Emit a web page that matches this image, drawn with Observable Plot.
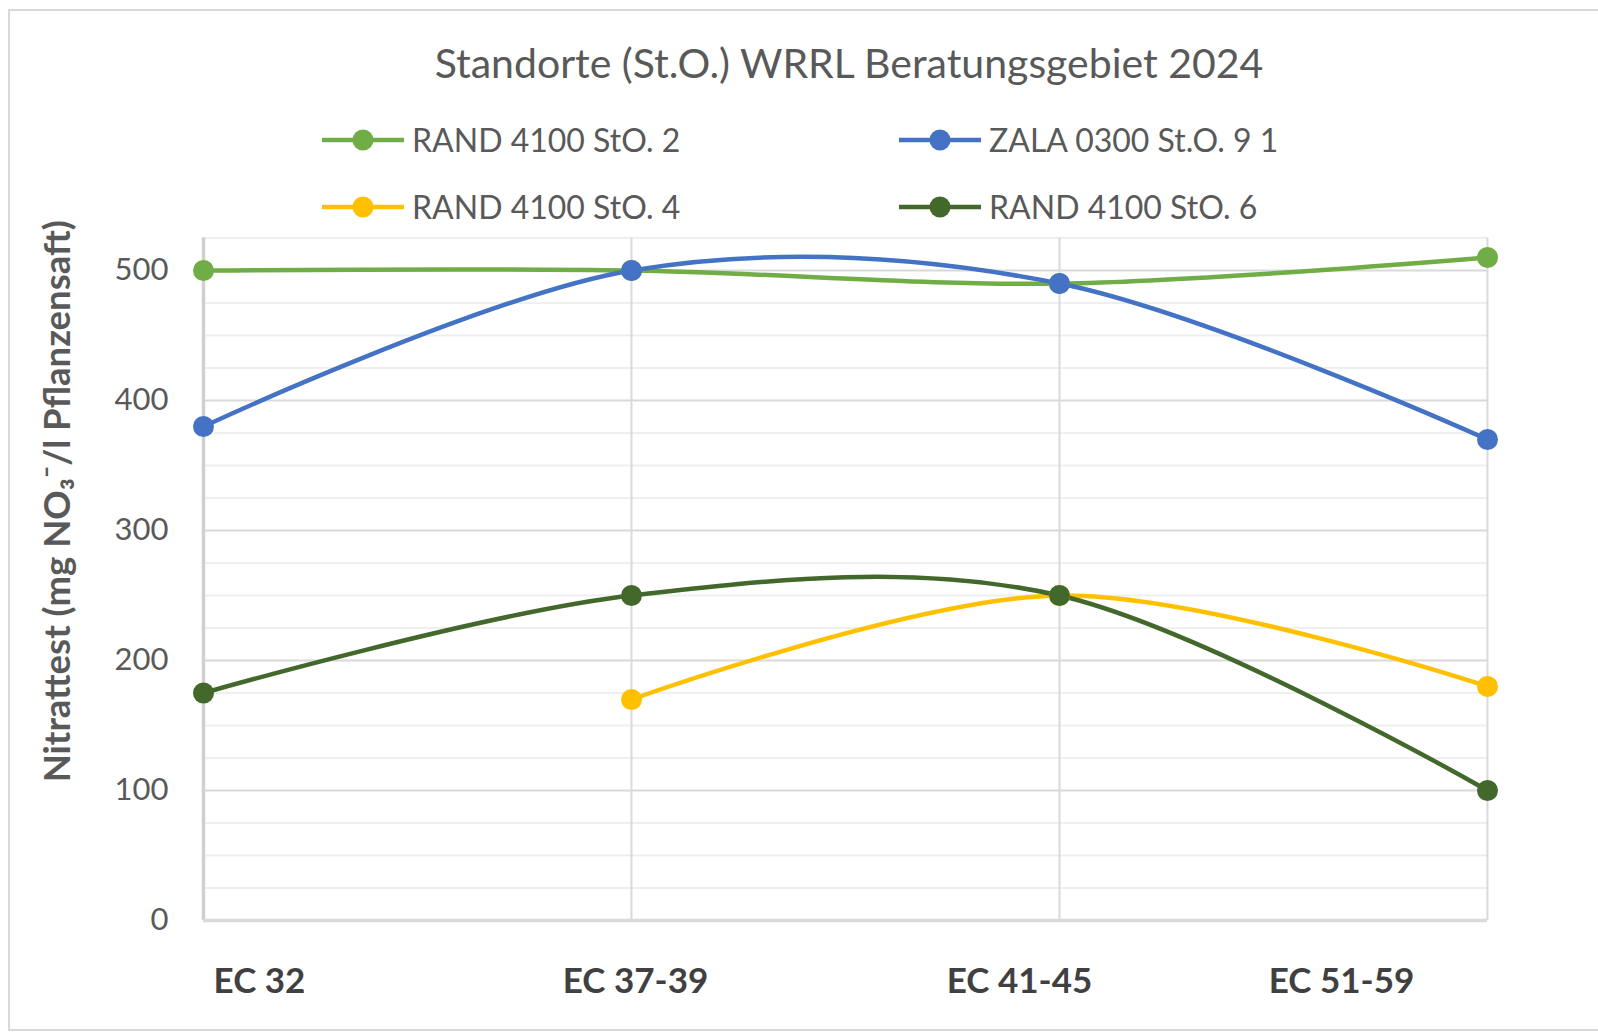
<!DOCTYPE html>
<html>
<head>
<meta charset="utf-8">
<script src="https://cdn.jsdelivr.net/npm/d3@7"></script>
<script src="https://cdn.jsdelivr.net/npm/@observablehq/plot@0.6"></script>
<style>
  html, body { margin: 0; padding: 0; background: #fff; width: 1598px; height: 1032px; overflow: hidden; }
  body { font-family: Lato, "Open Sans", sans-serif; position: relative; }
  #frame { position: absolute; left: 8px; top: 9px; width: 1620px; height: 1022px; border: 2px solid #d9d9d9; box-sizing: border-box; }
  #title { position: absolute; left: 0; top: 42px; width: 1698px; text-align: center; font-size: 41px; color: #595959; line-height: 1; white-space: nowrap; }
  .leg { position: absolute; display: flex; align-items: center; font-size: 32px; color: #595959; white-space: nowrap; line-height: 1; }
  .leg svg { margin-right: 8px; }
  #chart { position: absolute; left: 0; top: 150px; }
  #chart svg { overflow: visible; }
</style>
</head>
<body>
<div id="frame"></div>
<div id="title">Standorte (St.O.) WRRL Beratungsgebiet 2024</div>
<div id="legend"></div>
<div id="chart"></div>
<script>
// ---- data ----
const categories = ["EC 32", "EC 37-39", "EC 41-45", "EC 51-59"];
const seriesNames = ["RAND 4100 StO. 2", "ZALA 0300 St.O. 9 1", "RAND 4100 StO. 4", "RAND 4100 StO. 6"];
const rand4100StO2 = [500, 500, 490, 510];
const zala0300StO91 = [380, 500, 490, 370];
const rand4100StO4 = [null, 170, 250, 180];
const rand4100StO6 = [175, 250, 250, 100];
const yMajorTicks = [0, 100, 200, 300, 400, 500];
const yMinorTicks = [25, 50, 75, 125, 150, 175, 225, 250, 275, 325, 350, 375, 425, 450, 475, 525];
const yLabel = "Nitrattest (mg NO₃⁻/l Pflanzensaft)";

// ---- styles / layout ----
const seriesColors = ["#70AD47", "#4472C4", "#FFC000", "#43682B"];
const xLabelShift = [56, 4, -40, -146];
const legendPos = [[322, 140], [899, 140], [322, 207], [899, 207]];

const seriesValues = [rand4100StO2, zala0300StO91, rand4100StO4, rand4100StO6];
const data = [];
seriesNames.forEach((s, i) => {
  categories.forEach((c, j) => data.push({series: s, cat: c, value: seriesValues[i][j]}));
});

// legend
const legend = d3.select("#legend");
seriesNames.forEach((s, i) => {
  const item = legend.append("div").attr("class", "leg")
    .style("left", legendPos[i][0] + "px")
    .style("top", (legendPos[i][1] - 16) + "px")
    .style("height", "32px");
  const sw = item.append("svg").attr("width", 82).attr("height", 32);
  sw.append("line").attr("x1", 0).attr("x2", 82).attr("y1", 16).attr("y2", 16)
    .attr("stroke", seriesColors[i]).attr("stroke-width", 4.5);
  sw.append("circle").attr("cx", 41).attr("cy", 16).attr("r", 10.5).attr("fill", seriesColors[i]);
  item.append("span").text(s);
});

const color = {domain: seriesNames, range: seriesColors};

const chart = Plot.plot({
  width: 1598,
  height: 875,
  marginTop: 87.5,
  marginBottom: 105,
  marginLeft: 203,
  marginRight: 111,
  style: {fontFamily: "Lato, 'Open Sans', sans-serif", background: "transparent", overflow: "visible"},
  x: {type: "point", domain: categories, padding: 0, axis: null},
  y: {domain: [0, 525], axis: null},
  color,
  marks: [
    Plot.gridY(yMinorTicks, {stroke: "#efefef", strokeOpacity: 1, strokeWidth: 2}),
    Plot.gridY(yMajorTicks, {stroke: "#d9d9d9", strokeOpacity: 1, strokeWidth: 2}),
    Plot.gridX(categories, {stroke: "#d9d9d9", strokeOpacity: 1, strokeWidth: 2}),
    Plot.ruleX([categories[0]], {stroke: "#d0d0d0", strokeWidth: 3.5}),
    Plot.ruleY([0], {stroke: "#d9d9d9", strokeWidth: 3.5}),
    Plot.axisY(yMajorTicks, {tickSize: 0, tickPadding: 35, fontSize: 31, fill: "#595959", label: null}),
    ...categories.map((c, i) => Plot.text([c], {
      x: d => d, frameAnchor: "bottom", dy: 72, dx: xLabelShift[i],
      fontSize: 35, fontWeight: "bold", fill: "#404040"
    })),
    Plot.text([yLabel], {
      frameAnchor: "left", textAnchor: "middle", rotate: -90, dx: -145, dy: -78,
      fontSize: 36.5, fontWeight: "bold", fill: "#595959"
    }),
    Plot.line(data, {x: "cat", y: "value", z: "series", stroke: "series", strokeWidth: 4.5, curve: "cardinal"}),
    Plot.dot(data, {x: "cat", y: "value", fill: "series", r: 10.5})
  ]
});
document.getElementById("chart").appendChild(chart);
</script>
</body>
</html>
